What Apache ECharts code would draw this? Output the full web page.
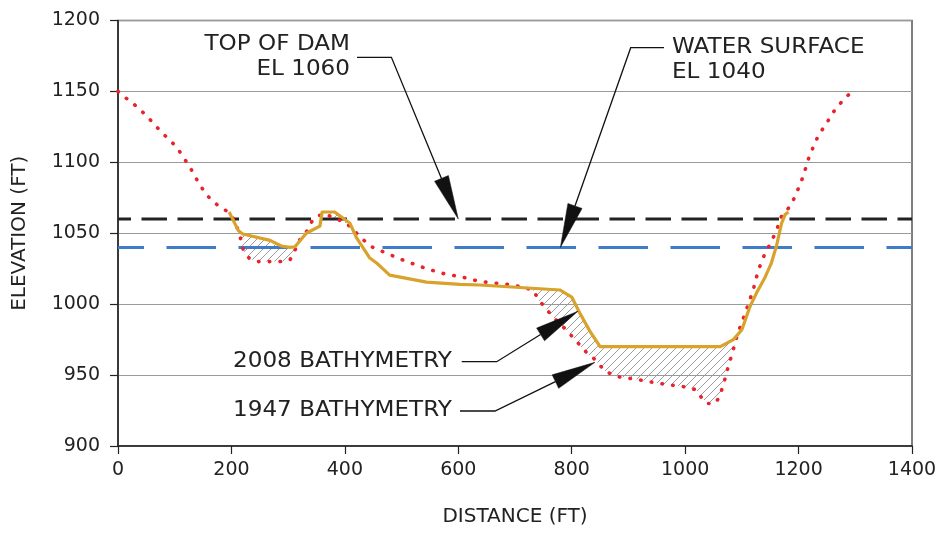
<!DOCTYPE html>
<html>
<head>
<meta charset="utf-8">
<script src="https://cdn.jsdelivr.net/npm/echarts@6/dist/echarts.min.js"></script>
<style>
  html, body { margin: 0; padding: 0; background: #fff; }
  #chart { width: 947px; height: 540px; }
</style>
</head>
<body>
<div id="chart"></div>
<script>
// Cross-section survey: distance along section (ft) vs elevation (ft)
const survey1947 = [
  [0, 1150], [12, 1146], [31, 1140], [50, 1133], [68, 1125], [85, 1118], [103, 1111],
  [118, 1102], [129, 1095], [143, 1085], [156, 1077], [175, 1070], [194, 1065], [206, 1059],
  [215, 1048], [221, 1038], [232, 1032], [247, 1030], [285, 1030], [303, 1031], [312, 1038],
  [320, 1045], [334, 1052], [344, 1060], [362, 1064], [403, 1057], [444, 1041], [467, 1037],
  [503, 1031], [544, 1025], [579, 1021], [603, 1019.5], [638, 1016], [697, 1013.5], [732, 1010],
  [741, 1003.5], [756, 996], [772, 989], [790, 982], [808, 974], [826, 966], [841, 961],
  [858, 953], [879, 949], [914, 947], [956, 944], [1003, 941.5], [1020, 939.5], [1029, 934],
  [1038, 930], [1053, 930], [1061, 935], [1070, 947], [1076, 956], [1085, 968], [1091, 977],
  [1097, 984], [1108, 996], [1120, 1010], [1129, 1024], [1141, 1036], [1152, 1044], [1161, 1052],
  [1170, 1062], [1185, 1069], [1194, 1076], [1208, 1090], [1217, 1102], [1226, 1111], [1235, 1119],
  [1250, 1128], [1264, 1137], [1279, 1144], [1294, 1150]
];

const survey2008 = [
  [196, 1065], [212, 1052], [220, 1049.5], [268, 1045], [288, 1041], [303, 1040], [312, 1040.5],
  [332, 1050], [356, 1055], [360, 1065], [382, 1065], [409, 1057], [421, 1046.5], [444, 1032.5],
  [456, 1029], [471, 1023.5], [479, 1020.5], [544, 1015.5], [603, 1014], [638, 1013.5], [779, 1010],
  [800, 1005], [814, 994], [832, 981], [850, 970], [1062, 970], [1085, 975], [1100, 982],
  [1114, 998], [1126, 1008], [1141, 1019], [1152, 1029], [1161, 1041], [1170, 1057], [1176, 1063],
  [1182, 1065]
];

const TOP_OF_DAM = 1060;
const WATER_SURFACE = 1040;

const distanceTicks = { min: 0, max: 1400, step: 200 };
const elevationTicks = { min: 900, max: 1200, step: 50 };

// linear lookup along a surveyed profile
function profileAt(profile, x) {
  if (x <= profile[0][0]) return profile[0][1];
  for (let i = 1; i < profile.length; i++) {
    const a = profile[i - 1], b = profile[i];
    if (x <= b[0]) {
      const t = (x - a[0]) / (b[0] - a[0]);
      return a[1] + t * (b[1] - a[1]);
    }
  }
  return profile[profile.length - 1][1];
}

// sediment region: between the 2008 surface and the 1947 surface where 2008 is higher
function sedimentPolygon() {
  const lo = survey2008[0][0], hi = survey2008[survey2008.length - 1][0];
  const xs = Array.from(new Set(
    survey1947.map(p => p[0]).concat(survey2008.map(p => p[0]))
  )).filter(x => x >= lo && x <= hi).sort((a, b) => a - b);
  const top = xs.map(x => [x, profileAt(survey2008, x)]);
  const bottom = xs.map(x => [x, Math.min(profileAt(survey1947, x), profileAt(survey2008, x))]);
  return top.concat(bottom.reverse());
}
const sedimentArea = sedimentPolygon();

// diagonal hatch tile
function makeHatch() {
  const c = document.createElement('canvas');
  const s = 8;
  c.width = s; c.height = s;
  const g = c.getContext('2d');
  g.strokeStyle = '#9c9c9c';
  g.lineWidth = 1;
  g.beginPath();
  g.moveTo(0, s); g.lineTo(s, 0);
  g.moveTo(-1, 1); g.lineTo(1, -1);
  g.moveTo(s - 1, s + 1); g.lineTo(s + 1, s - 1);
  g.stroke();
  return c;
}
const hatchTile = makeHatch();

const FONT = '"DejaVu Sans", sans-serif';
const TEXT = '#222';
const plain = v => String(v);

const chart = echarts.init(document.getElementById('chart'), null, { renderer: 'canvas' });

chart.setOption({
  animation: false,
  backgroundColor: '#fff',
  grid: {
    left: 118, top: 20.5, right: 35, bottom: 94,
    show: true, borderColor: '#555', borderWidth: 1.5, backgroundColor: 'transparent'
  },
  xAxis: {
    type: 'value',
    min: distanceTicks.min, max: distanceTicks.max, interval: distanceTicks.step,
    name: 'DISTANCE (FT)', nameLocation: 'middle', nameGap: 61,
    nameTextStyle: { fontFamily: FONT, fontSize: 20, color: TEXT },
    axisLine: { show: true, lineStyle: { color: '#222', width: 1.5 } },
    axisTick: { show: true, inside: false, length: 8, lineStyle: { color: '#222', width: 1.2 } },
    axisLabel: { fontFamily: FONT, fontSize: 19, color: TEXT, margin: 15, formatter: plain },
    splitLine: { show: false }
  },
  yAxis: {
    type: 'value',
    min: elevationTicks.min, max: elevationTicks.max, interval: elevationTicks.step,
    name: 'ELEVATION (FT)', nameLocation: 'middle', nameGap: 88, nameRotate: 90,
    nameTextStyle: { fontFamily: FONT, fontSize: 20, color: TEXT },
    axisLine: { show: true, lineStyle: { color: '#222', width: 1.5 } },
    axisTick: { show: true, inside: false, length: 8, lineStyle: { color: '#222', width: 1.2 } },
    axisLabel: { fontFamily: FONT, fontSize: 19, color: TEXT, margin: 18, formatter: plain },
    splitLine: { show: true, lineStyle: { color: '#9a9a9a', width: 1 } }
  },
  series: [
    {
      name: 'sediment',
      type: 'custom',
      coordinateSystem: 'cartesian2d',
      silent: true,
      z: 1,
      data: [[distanceTicks.min, elevationTicks.min]],
      renderItem: function (params, api) {
        const pts = sedimentArea.map(p => api.coord(p));
        return {
          type: 'polygon',
          shape: { points: pts },
          style: { fill: { image: hatchTile, repeat: 'repeat' }, stroke: null }
        };
      }
    },
    {
      name: 'Water surface',
      type: 'line',
      z: 2,
      symbol: 'none',
      silent: true,
      data: [[distanceTicks.min, WATER_SURFACE], [distanceTicks.max, WATER_SURFACE]],
      lineStyle: { color: '#3f7bc8', width: 3, type: [49.5, 22.5], dashOffset: 23.5 }
    },
    {
      name: 'Top of dam',
      type: 'line',
      z: 2,
      symbol: 'none',
      silent: true,
      data: [[distanceTicks.min, TOP_OF_DAM], [distanceTicks.max, TOP_OF_DAM]],
      lineStyle: { color: '#222', width: 3, type: [25.5, 10.5], dashOffset: 12.5 }
    },
    {
      name: '1947 bathymetry',
      type: 'line',
      z: 3,
      symbol: 'none',
      silent: true,
      data: survey1947,
      lineStyle: { color: '#e8232c', width: 3.6, type: [0.5, 10.3], cap: 'round' }
    },
    {
      name: '2008 bathymetry',
      type: 'line',
      z: 4,
      symbol: 'none',
      silent: true,
      data: survey2008,
      lineStyle: { color: '#d9a22b', width: 3.2, join: 'round' }
    }
  ]
});

// callout arrows: text, leader with an elbow, filled arrowhead pointing at a surveyed point
function callout(lines, textX, textY, align, legStart, elbow, target) {
  const tip = chart.convertToPixel({ gridIndex: 0 }, target);
  const dx = tip[0] - elbow[0], dy = tip[1] - elbow[1];
  const len = Math.sqrt(dx * dx + dy * dy);
  const ux = dx / len, uy = dy / len;
  const headLen = 44, half = 7.5;
  const bx = tip[0] - ux * headLen, by = tip[1] - uy * headLen;
  const els = [];
  lines.forEach((t, i) => {
    els.push({
      type: 'text', x: textX, y: textY + i * 25, scaleX: 1.1, z: 100,
      style: {
        text: t, x: 0, y: 0, align: align, verticalAlign: 'middle',
        font: '21px ' + FONT, fill: TEXT
      }
    });
  });
  els.push({
    type: 'polyline', z: 100,
    shape: { points: [legStart, elbow, [bx, by]] },
    style: { stroke: '#111', lineWidth: 1.3, fill: null }
  });
  els.push({
    type: 'polygon', z: 100,
    shape: { points: [tip, [bx - uy * half, by + ux * half], [bx + uy * half, by - ux * half]] },
    style: { fill: '#111', stroke: '#111', lineWidth: 0.5 }
  });
  return els;
}

const graphics = []
  .concat(callout(['TOP OF DAM', 'EL ' + TOP_OF_DAM], 350, 45, 'right',
    [357, 57.3], [391.4, 57.3], [600, TOP_OF_DAM]))
  .concat(callout(['WATER SURFACE', 'EL ' + WATER_SURFACE], 672, 48, 'left',
    [664, 47.7], [630.7, 47.7], [780, WATER_SURFACE]))
  .concat(callout(['2008 BATHYMETRY'], 233, 362, 'left',
    [461.7, 361.7], [496.7, 361.7], [811, 995]))
  .concat(callout(['1947 BATHYMETRY'], 233, 411, 'left',
    [460, 411], [495, 411], [841, 959]));

chart.setOption({ graphic: graphics });
</script>
</body>
</html>
